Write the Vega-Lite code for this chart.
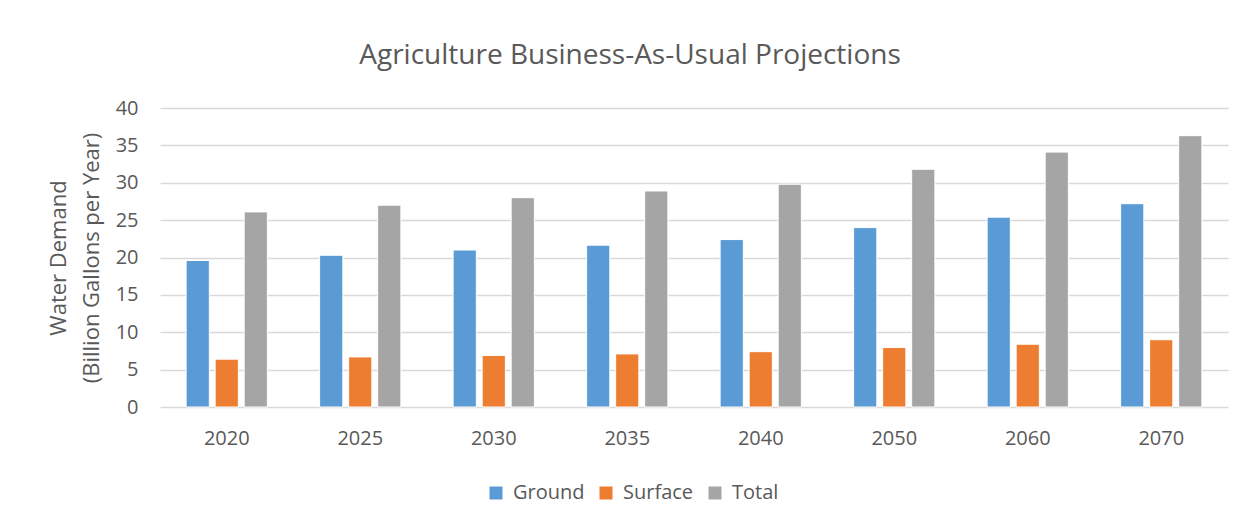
{
  "$schema": "https://vega.github.io/schema/vega-lite/v6.json",
  "autosize": {"type": "none"},
  "width": 1068,
  "height": 299,
  "padding": {"left": 160, "top": 108, "right": 26, "bottom": 120},
  "background": "white",
  "title": {
    "text": "Agriculture Business-As-Usual Projections",
    "anchor": "middle",
    "dx": -64,
    "offset": 28,
    "font": "Open Sans",
    "fontSize": 28,
    "fontWeight": "normal",
    "color": "#595959"
  },
  "data": {
    "values": [
      {"year": "2020", "type": "Ground", "value": 19.6},
      {"year": "2020", "type": "Surface", "value": 6.4},
      {"year": "2020", "type": "Total", "value": 26.1},
      {"year": "2025", "type": "Ground", "value": 20.3},
      {"year": "2025", "type": "Surface", "value": 6.7},
      {"year": "2025", "type": "Total", "value": 27.0},
      {"year": "2030", "type": "Ground", "value": 21.0},
      {"year": "2030", "type": "Surface", "value": 6.9},
      {"year": "2030", "type": "Total", "value": 28.0},
      {"year": "2035", "type": "Ground", "value": 21.65},
      {"year": "2035", "type": "Surface", "value": 7.1},
      {"year": "2035", "type": "Total", "value": 28.9},
      {"year": "2040", "type": "Ground", "value": 22.4},
      {"year": "2040", "type": "Surface", "value": 7.4},
      {"year": "2040", "type": "Total", "value": 29.8},
      {"year": "2050", "type": "Ground", "value": 24.0},
      {"year": "2050", "type": "Surface", "value": 7.95},
      {"year": "2050", "type": "Total", "value": 31.8},
      {"year": "2060", "type": "Ground", "value": 25.4},
      {"year": "2060", "type": "Surface", "value": 8.4},
      {"year": "2060", "type": "Total", "value": 34.1},
      {"year": "2070", "type": "Ground", "value": 27.2},
      {"year": "2070", "type": "Surface", "value": 9.0},
      {"year": "2070", "type": "Total", "value": 36.3}
    ]
  },
  "mark": {"type": "bar", "stroke": "white", "strokeWidth": 1},
  "encoding": {
    "x": {
      "field": "year",
      "type": "nominal",
      "scale": {"paddingInner": 0, "paddingOuter": 0},
      "axis": {
        "title": null,
        "labelAngle": 0,
        "labelFont": "Open Sans",
        "labelFontSize": 20,
        "labelColor": "#595959",
        "labelPadding": 21,
        "ticks": false,
        "domain": false
      }
    },
    "xOffset": {
      "field": "type",
      "type": "nominal",
      "scale": {"paddingInner": 0.2, "paddingOuter": 0.9}
    },
    "y": {
      "field": "value",
      "type": "quantitative",
      "scale": {"domain": [0, 40], "nice": false},
      "axis": {
        "title": ["Water Demand", "(Billion Gallons per Year)"],
        "titleFont": "Open Sans",
        "titleFontSize": 22,
        "titleFontWeight": "normal",
        "titleColor": "#595959",
        "titlePadding": 12,
        "titleLineHeight": 33,
        "values": [0, 5, 10, 15, 20, 25, 30, 35, 40],
        "labelFont": "Open Sans",
        "labelFontSize": 20,
        "labelColor": "#595959",
        "labelPadding": 22,
        "ticks": false,
        "domain": false,
        "grid": true,
        "gridColor": "#d9d9d9",
        "gridWidth": 1.5
      }
    },
    "color": {
      "field": "type",
      "type": "nominal",
      "scale": {"domain": ["Ground", "Surface", "Total"], "range": ["#5b9bd5", "#ed7d31", "#a5a5a5"]},
      "legend": {
        "title": null,
        "orient": "none",
        "direction": "horizontal",
        "legendX": 326,
        "legendY": 375,
        "symbolType": "square",
        "symbolSize": 169,
        "symbolStrokeWidth": 0,
        "labelFont": "Open Sans",
        "labelFontSize": 20,
        "labelColor": "#595959",
        "labelOffset": 7,
        "columnPadding": 11
      }
    }
  },
  "config": {
    "view": {"stroke": null}
  }
}
